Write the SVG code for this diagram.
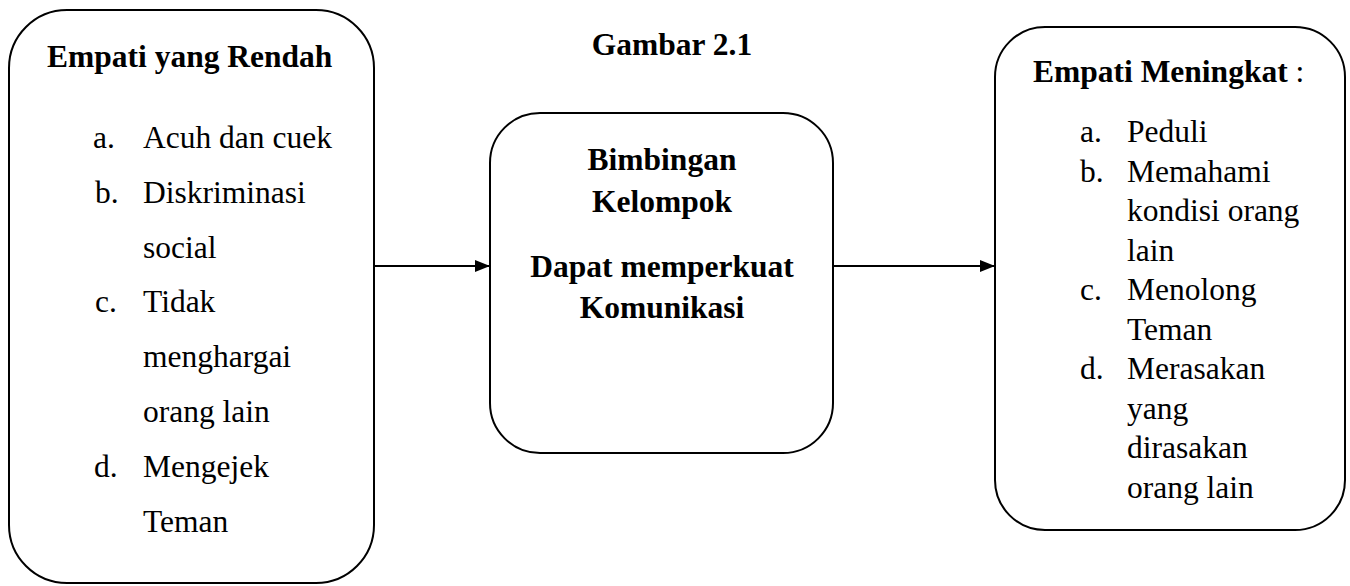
<svg xmlns="http://www.w3.org/2000/svg" width="1350" height="586" viewBox="0 0 1350 586">
<style>
.box{fill:#fff;stroke:#000;stroke-width:2}
.t{font-family:"Liberation Serif","Times New Roman",serif;font-size:31.5px;fill:#000}
.b{font-weight:bold}
.c{text-anchor:middle}
.con{stroke:#000;stroke-width:2;fill:none}
</style>
<defs>
<marker id="ah" viewBox="0 0 15 12" refX="15" refY="6" markerWidth="15" markerHeight="12" markerUnits="userSpaceOnUse" orient="auto">
<path d="M0,0 L15,6 L0,12 Z" fill="#000"/>
</marker>
</defs>
<rect width="1350" height="586" fill="#fff"/>
<text class="t b c" x="672" y="55">Gambar 2.1</text>
<g id="node-rendah">
<rect class="box" x="9" y="10" width="365" height="573" rx="58" ry="58"/>
<text class="t b" x="47" y="67">Empati yang Rendah</text>
<text class="t" x="93" y="148">a.</text><text class="t" x="143" y="148">Acuh dan cuek</text>
<text class="t" x="95" y="203">b.</text><text class="t" x="143" y="203">Diskriminasi</text>
<text class="t" x="143" y="258">social</text>
<text class="t" x="95" y="312">c.</text><text class="t" x="143" y="312">Tidak</text>
<text class="t" x="143" y="367">menghargai</text>
<text class="t" x="143" y="422">orang lain</text>
<text class="t" x="94" y="477">d.</text><text class="t" x="143" y="477">Mengejek</text>
<text class="t" x="143" y="532">Teman</text>
</g>
<g id="node-bimbingan">
<rect class="box" x="490" y="113" width="343" height="340" rx="50" ry="50"/>
<text class="t b c" x="662" y="170">Bimbingan</text>
<text class="t b c" x="662" y="212">Kelompok</text>
<text class="t b c" x="662" y="277">Dapat memperkuat</text>
<text class="t b c" x="662" y="318">Komunikasi</text>
</g>
<g id="node-meningkat">
<rect class="box" x="995" y="27" width="350" height="503" rx="50" ry="50"/>
<text class="t" x="1033" y="82"><tspan class="b">Empati Meningkat</tspan> :</text>
<text class="t" x="1080" y="142">a.</text><text class="t" x="1127" y="142">Peduli</text>
<text class="t" x="1080" y="181.5">b.</text><text class="t" x="1127" y="181.5">Memahami</text>
<text class="t" x="1127" y="221">kondisi orang</text>
<text class="t" x="1127" y="260.5">lain</text>
<text class="t" x="1080" y="300">c.</text><text class="t" x="1127" y="300">Menolong</text>
<text class="t" x="1127" y="339.5">Teman</text>
<text class="t" x="1080" y="379">d.</text><text class="t" x="1127" y="379">Merasakan</text>
<text class="t" x="1127" y="418.5">yang</text>
<text class="t" x="1127" y="458">dirasakan</text>
<text class="t" x="1127" y="497.5">orang lain</text>
</g>
<g id="connectors">
<line class="con" x1="374" y1="266" x2="490" y2="266" marker-end="url(#ah)"/>
<line class="con" x1="833" y1="266" x2="995" y2="266" marker-end="url(#ah)"/>
</g>
</svg>
